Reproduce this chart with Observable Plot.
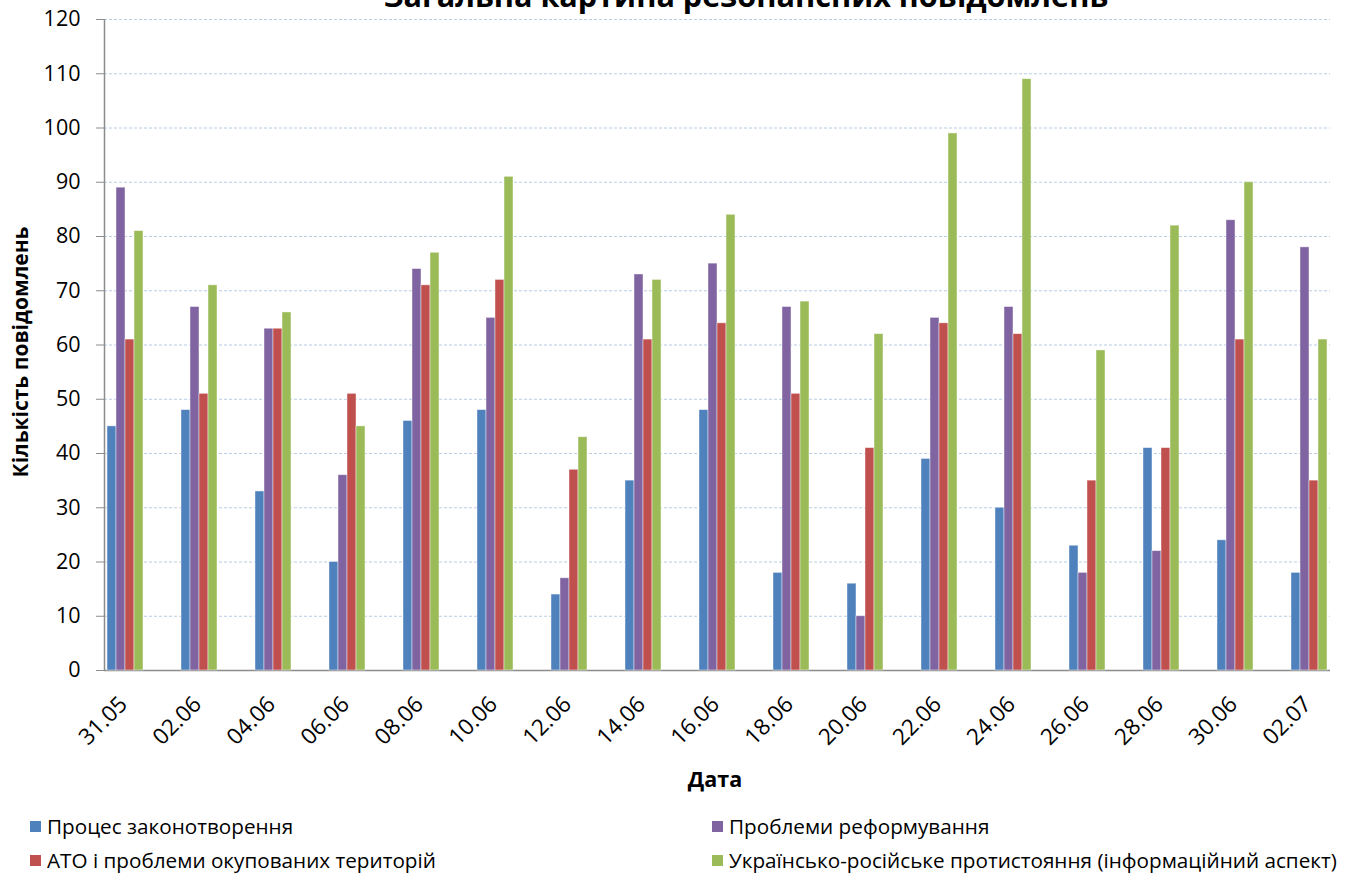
<!DOCTYPE html>
<html>
<head>
<meta charset="utf-8">
<script src="https://cdn.jsdelivr.net/npm/d3@7"></script>
<script src="https://cdn.jsdelivr.net/npm/@observablehq/plot@0.6"></script>
<style>
  html, body { margin: 0; padding: 0; background: #fff; }
  #wrap { position: relative; width: 1356px; height: 877px; overflow: hidden; font-family: "Open Sans", sans-serif; color: #000; }
  #wrap .layer { position: absolute; left: 0; top: 0; }
  #title { position: absolute; left: 746px; top: -26px; transform: translateX(-50%); font-size: 30.6px; font-weight: bold; white-space: nowrap; line-height: normal; }
  #ytitle { position: absolute; left: 20px; top: 352px; transform: translate(-50%, -50%) rotate(-90deg); font-size: 21px; font-weight: bold; white-space: nowrap; }
  #xtitle { position: absolute; left: 715px; top: 778px; transform: translate(-50%, -50%); font-size: 21.5px; font-weight: bold; white-space: nowrap; }
  .leg { position: absolute; font-size: 20.7px; white-space: nowrap; display: flex; align-items: center; transform: translateY(-50%); }
  .leg .sw { width: 11px; height: 11px; margin-right: 6px; display: inline-block; }
</style>
</head>
<body>
<div id="wrap">
  <div id="title"></div>
  <div id="ytitle"></div>
  <div id="xtitle"></div>
</div>
<script>
// ---- data ----
const titleText = "Загальна картина резонансних повідомлень";
const yTitle = "Кількість повідомлень";
const xTitle = "Дата";
const dates = ["31.05","02.06","04.06","06.06","08.06","10.06","12.06","14.06","16.06","18.06","20.06","22.06","24.06","26.06","28.06","30.06","02.07"];
const series = [
  "Процес законотворення",
  "Проблеми реформування",
  "АТО і проблеми окупованих територій",
  "Українсько-російське протистояння (інформаційний аспект)"
];
const zakonotvorennia = [45,48,33,20,46,48,14,35,48,18,16,39,30,23,41,24,18];
const reformuvannia   = [89,67,63,36,74,65,17,73,75,67,10,65,67,18,22,83,78];
const ato             = [61,51,63,51,71,72,37,61,64,51,41,64,62,35,41,61,35];
const ukrRus          = [81,71,66,45,77,91,43,72,84,68,62,99,109,59,82,90,61];
const yTicks = [0,10,20,30,40,50,60,70,80,90,100,110,120];
const colors = ["#4F81BD","#8064A2","#C0504D","#9BBB59"];

const seriesValues = [zakonotvorennia, reformuvannia, ato, ukrRus];
const table = [];
dates.forEach((d, i) => series.forEach((s, j) => table.push({date: d, series: s, value: seriesValues[j][i]})));

const W = 1356, H = 800;
const margins = {marginLeft: 104, marginRight: 26, marginTop: 19, marginBottom: 130};

// background layer: grid + axes
const back = Plot.plot({
  width: W, height: H, ...margins,
  x: {domain: [0, 1], axis: null},
  y: {domain: [0, 120], axis: null},
  style: {fontFamily: "Open Sans, sans-serif", fontSize: "21.5px", color: "#000", background: "white"},
  marks: [
    Plot.gridY(yTicks.filter(d => d > 0), {stroke: "#b8cce4", strokeOpacity: 1, strokeDasharray: "3,2"}),
    Plot.ruleY([0], {stroke: "#8c8c8c", strokeWidth: 1.5}),
    Plot.ruleX([0], {stroke: "#8c8c8c", strokeWidth: 1.5}),
    Plot.axisY(yTicks, {tickSize: 8, tickPadding: 16, stroke: "#8c8c8c", label: null, fill: "#000", tickFormat: d => d})
  ]
});
back.classList.add("layer");

// bars layer
const front = Plot.plot({
  width: W, height: H, ...margins,
  fx: {domain: dates, paddingInner: 0.515, paddingOuter: 0, label: null, axis: null},
  x: {domain: series, axis: null, padding: 0},
  y: {domain: [0, 120], axis: null},
  color: {domain: series, range: colors},
  style: {fontFamily: "Open Sans, sans-serif", fontSize: "22.5px", color: "#000", background: "transparent"},
  marks: [
    Plot.barY(table, {fx: "date", x: "series", y: "value", fill: "series", stroke: "white", strokeOpacity: 0.55, strokeWidth: 0.8}),
    Plot.axisFx({anchor: "bottom", tickRotate: -45, tickSize: 0, tickPadding: 30, dx: -2, label: null})
  ]
});
front.classList.add("layer");

const wrap = document.getElementById("wrap");
wrap.insertBefore(back, wrap.firstChild);
wrap.insertBefore(front, back.nextSibling);

document.getElementById("title").textContent = titleText;
document.getElementById("ytitle").textContent = yTitle;
document.getElementById("xtitle").textContent = xTitle;

// legend (2 columns, row-major)
const legPos = [[30, 826], [712, 826], [30, 860], [712, 860]];
series.forEach((s, i) => {
  const el = document.createElement("div");
  el.className = "leg";
  el.style.left = legPos[i][0] + "px";
  el.style.top = legPos[i][1] + "px";
  const sw = document.createElement("span");
  sw.className = "sw";
  sw.style.background = colors[i];
  el.appendChild(sw);
  el.appendChild(document.createTextNode(s));
  wrap.appendChild(el);
});
</script>
</body>
</html>
